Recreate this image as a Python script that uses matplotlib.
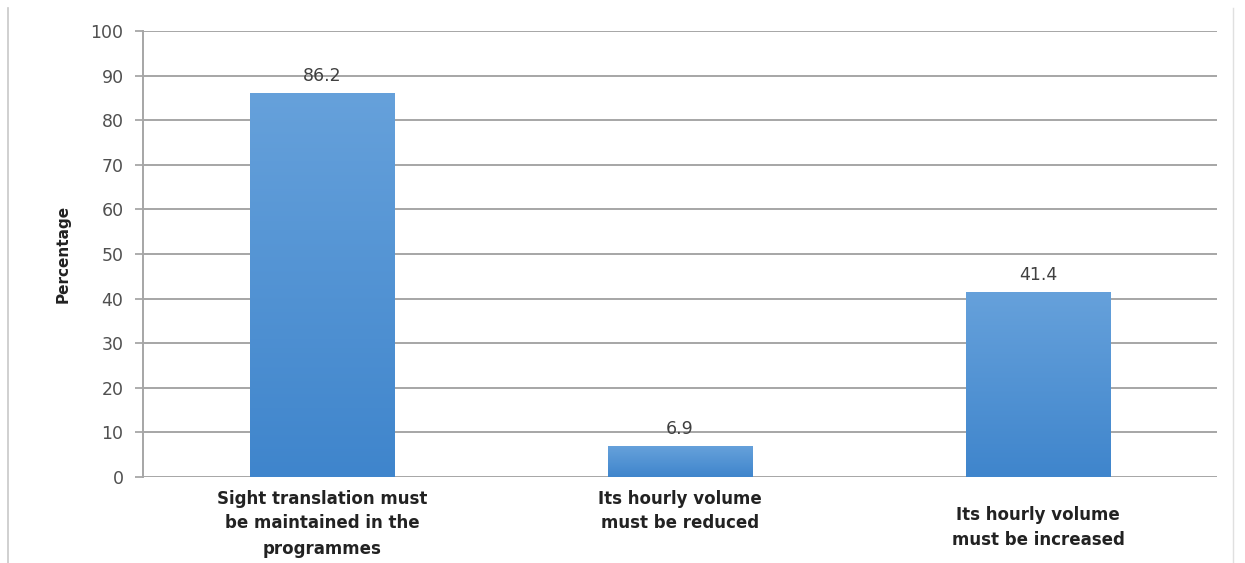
import matplotlib
matplotlib.use("Agg")
import matplotlib.pyplot as plt
import numpy as np
from matplotlib.lines import Line2D
from matplotlib.colors import LinearSegmentedColormap

plt.rcParams["font.family"] = ["DejaVu Sans"]

categories = ["Sight translation must\nbe maintained in the\nprogrammes",
              "Its hourly volume\nmust be reduced",
              "Its hourly volume\nmust be increased"]
values = [86.2, 6.9, 41.4]
value_labels = ["86.2", "6.9", "41.4"]
yticks = [0, 10, 20, 30, 40, 50, 60, 70, 80, 90, 100]

fig = plt.figure(figsize=(12.45, 5.63), dpi=100)
ax = fig.add_axes([143/1245, 1-477/563, (1217-143)/1245, (477-31)/563])

x = np.arange(len(categories))
bars = ax.bar(x, values, width=0.405, color="#4F93D8", zorder=3)

# vertical gradient inside each bar
grad = np.linspace(0, 1, 256).reshape(-1, 1)
cmap = LinearSegmentedColormap.from_list("g", ["#3F85CC", "#66A1DB"])
for b in bars:
    x0, y0 = b.get_x(), b.get_y()
    w, h = b.get_width(), b.get_height()
    im = ax.imshow(grad, extent=[x0, x0 + w, y0, y0 + h], origin="lower",
                   cmap=cmap, aspect="auto", zorder=4)
    im.set_clip_path(b)

for xi, v, lab in zip(x, values, value_labels):
    ax.text(xi, v + 1.8, lab, ha="center", va="bottom", fontsize=12.5,
            color="#404040", zorder=5)

ax.set_xlim(-0.5, 2.5)
ax.set_ylim(0, 100)
ax.set_yticks(yticks)
ax.set_yticklabels([str(t) for t in yticks], fontsize=12.5, color="#505050")
ax.tick_params(axis="y", length=6, width=1.2, color="#A0A0A0", pad=8)
ax.tick_params(axis="x", length=0, pad=9)
ax.set_xticks(x)
ax.set_xticklabels(categories, fontsize=12, fontweight="bold", color="#222222",
                   linespacing=1.5)
# third label sits a bit lower in the reference
ax.get_xticklabels()[2].set_y(-0.036)

ax.grid(axis="y", color="#A6A6A6", linewidth=1.4, zorder=0)
ax.set_axisbelow(True)
for s in ["top", "right", "bottom"]:
    ax.spines[s].set_visible(False)
ax.spines["left"].set_color("#A6A6A6")
ax.spines["left"].set_linewidth(1.4)

ax.set_ylabel("Percentage", fontsize=11, fontweight="bold", color="#222222", labelpad=14)

# thin outer frame lines of the picture
fig.add_artist(Line2D([8/1245, 8/1245], [0, 1-8/563], color="#C8C8C8", linewidth=1.2))
fig.add_artist(Line2D([1233/1245, 1233/1245], [0, 1-8/563], color="#E0E0E0", linewidth=1.0))

fig.savefig("out.png", dpi=100, facecolor="white")
